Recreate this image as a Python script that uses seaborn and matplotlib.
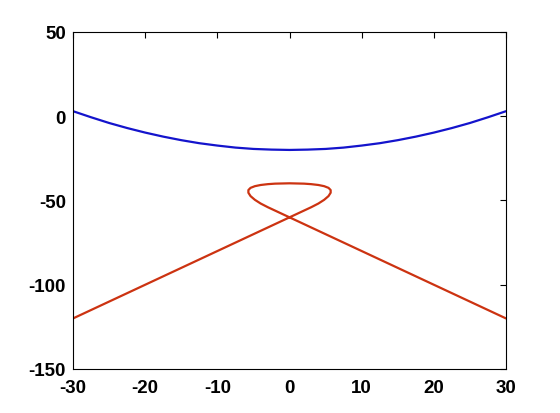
import numpy as np
import matplotlib
matplotlib.use("Agg")
import matplotlib.pyplot as plt
import seaborn as sns

# blue curve
blue_x = [-30, -27.5, -25, -22.5, -20, -17.5, -15, -12.5, -10, -7.5, -5, -2.5, 0,
          2.5, 5, 7.5, 10, 12.5, 15, 17.5, 20, 22.5, 25, 27.5, 30]
blue_y = [3, -0.6, -4, -7, -9.7, -12.1, -14.2, -16, -17.4, -18.6, -19.4, -19.8, -20,
          -19.8, -19.4, -18.6, -17.4, -16, -14.2, -12.1, -9.7, -7, -4, -0.6, 3]

# red curve with the loop on top
red_x = [-30, -15, 0, 1, 2, 3, 4, 4.8, 5.4, 5.7, 5.7, 5.4, 4.8, 4, 3, 2, 1, 0,
         -1, -2, -3, -4, -4.8, -5.4, -5.7, -5.7, -5.4, -4.8, -4, -3, -2, -1, 0, 15, 30]
red_y = [-120, -90, -60, -58, -56, -54, -51.8, -49.6, -47.4, -45.4, -43.8, -42.5, -41.5, -40.8,
         -40.3, -40, -39.9, -39.8, -39.9, -40, -40.3, -40.8, -41.5, -42.5, -43.8, -45.4,
         -47.4, -49.6, -51.8, -54, -56, -58, -60, -90, -120]

sns.set_style("white")
plt.rcParams['font.family'] = ['Liberation Sans', 'DejaVu Sans']
plt.rcParams['axes.unicode_minus'] = False

fig = plt.figure(figsize=(5.6, 4.14), dpi=100)
ax = fig.add_axes([0.1304, 0.1063, 0.7732, 0.814])

# estimator=None so the points are drawn in order, not averaged
sns.lineplot(x=blue_x, y=blue_y, sort=False, estimator=None, color='#1414CC', lw=1.6, ax=ax)
sns.lineplot(x=red_x, y=red_y, sort=False, estimator=None, color='#CC3311', lw=1.6, ax=ax)

ax.set_xlim(-30, 30)
ax.set_ylim(-150, 50)
ax.set_xticks(np.arange(-30, 31, 10))
ax.set_yticks(np.arange(-150, 51, 50))
ax.tick_params(direction='in', length=4, width=0.8, top=True, right=True,
               labelsize=13.5, colors='black')
ax.tick_params(axis='x', pad=7)
ax.tick_params(axis='y', pad=5)
for lab in ax.get_xticklabels() + ax.get_yticklabels():
    lab.set_fontweight('bold')
for s in ax.spines.values():
    s.set_color('black')
    s.set_linewidth(0.8)

fig.savefig("out.png", dpi=100)
